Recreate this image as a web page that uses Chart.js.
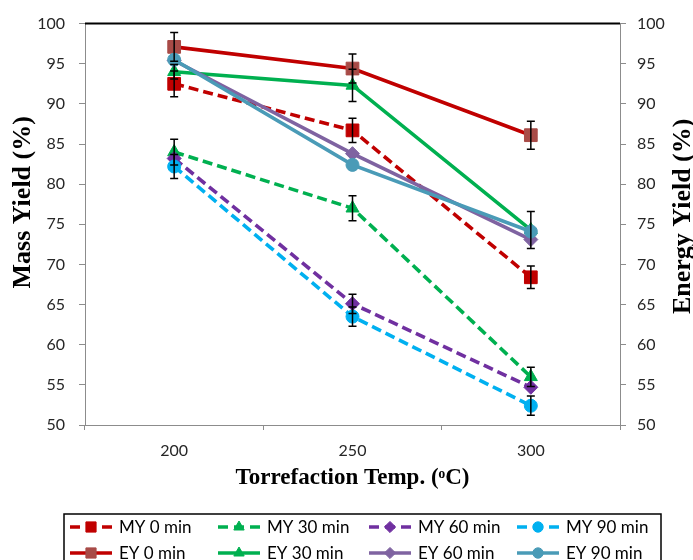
<!DOCTYPE html>
<html><head><meta charset="utf-8">
<script src="https://cdn.jsdelivr.net/npm/chart.js@4.4.1/dist/chart.umd.min.js"></script>
<style>html,body{margin:0;padding:0;background:#fff;overflow:hidden}</style>
</head><body>
<canvas id="c" width="693" height="560" style="display:block;width:693px;height:560px"></canvas>
<script>
// ---- data ----
const categories = ['200', '250', '300'];
const yTickMin = 50, yTickMax = 100, yTickStep = 5;
const xTitle = 'Torrefaction Temp. (\u1D52C)';
const yLeftTitle = 'Mass Yield (%)';
const yRightTitle = 'Energy Yield (%)';

const seriesLabels = ['MY 0 min', 'MY 30 min', 'MY 60 min', 'MY 90 min',
                      'EY 0 min', 'EY 30 min', 'EY 60 min', 'EY 90 min'];

const my0  = [92.5, 86.7, 68.4];
const my30 = [84.0, 77.0, 56.0];
const my60 = [83.2, 65.1, 54.7];
const my90 = [82.2, 63.5, 52.4];
const ey0  = [97.1, 94.4, 86.1];
const ey30 = [94.0, 92.3, 74.3];
const ey60 = [95.4, 83.8, 73.1];
const ey90 = [95.5, 82.4, 74.1];

const my0Err  = [1.6, 1.5, 1.4];
const my30Err = [1.6, 1.55, 1.2];
const my60Err = [0, 1.2, 0];
const my90Err = [1.5, 1.2, 1.2];
const ey0Err  = [1.8, 1.8, 1.75];
const ey30Err = [0.9, 2.0, 2.3];
const ey60Err = [0, 0, 0];
const ey90Err = [0, 0, 0];

// ---- styles ----
const DASH = [10, 5];
function ds(i, data, err, color, ptColor, style, radius, dashed, axis) {
  return {
    label: seriesLabels[i], data, err,
    yAxisID: axis,
    borderColor: color, backgroundColor: ptColor,
    pointBackgroundColor: ptColor, pointBorderColor: ptColor,
    pointStyle: style, pointRadius: radius, pointBorderWidth: 1,
    borderWidth: 3.6, borderDash: dashed ? DASH : [],
    borderCapStyle: 'butt', tension: 0, fill: false,
    order: 8 - i, legendRadius: radius * 0.8
  };
}

const datasets = [
  ds(0, my0, my0Err, '#C00000', '#C00000', 'rect', 9, true, 'y'),
  ds(1, my30, my30Err, '#00B050', '#00B050', 'triangle', 7.5, true, 'y'),
  ds(2, my60, my60Err, '#7030A0', '#7030A0', 'rectRot', 7, true, 'y'),
  ds(3, my90, my90Err, '#00B0F0', '#00B0F0', 'circle', 6.5, true, 'y'),
  ds(4, ey0, ey0Err, '#C00000', '#A84B47', 'rect', 9, false, 'y1'),
  ds(5, ey30, ey30Err, '#00B050', '#00B050', 'triangle', 7.5, false, 'y1'),
  ds(6, ey60, ey60Err, '#7F63A1', '#7F63A1', 'rectRot', 7, false, 'y1'),
  ds(7, ey90, ey90Err, '#4A9BB7', '#4A9BB7', 'circle', 6.5, false, 'y1')
];

const AXIS_GREY = '#8C8C8C';
const TICK_FONT = {family: 'Lato', size: 16};
const TITLE_FONT = {family: 'Liberation Serif', size: 23, weight: 'bold'};
const Y_TITLE_CSS = 'bold 26px "Liberation Serif"';

function drawVerticalTitle(ctx, text, x, y) {
  ctx.save();
  ctx.translate(x, y);
  ctx.rotate(-Math.PI / 2);
  ctx.font = Y_TITLE_CSS;
  ctx.fillStyle = '#000';
  ctx.textAlign = 'center';
  ctx.textBaseline = 'middle';
  ctx.fillText(text, 0, 0);
  ctx.restore();
}

const customPlugin = {
  id: 'custom',
  afterDatasetsDraw(chart) {
    const ctx = chart.ctx;
    ctx.save();
    ctx.strokeStyle = '#000';
    ctx.lineWidth = 1.5;
    ctx.setLineDash([]);
    chart.data.datasets.forEach((d, i) => {
      const meta = chart.getDatasetMeta(i);
      const sc = chart.scales[d.yAxisID];
      d.data.forEach((v, j) => {
        const e = d.err[j];
        if (!e) return;
        const x = meta.data[j].x;
        const y1 = sc.getPixelForValue(v + e);
        const y2 = sc.getPixelForValue(v - e);
        ctx.beginPath();
        ctx.moveTo(x, y1); ctx.lineTo(x, y2);
        ctx.moveTo(x - 4, y1); ctx.lineTo(x + 4, y1);
        ctx.moveTo(x - 4, y2); ctx.lineTo(x + 4, y2);
        ctx.stroke();
      });
    });
    ctx.restore();
  },
  afterDraw(chart) {
    const ctx = chart.ctx;
    const a = chart.chartArea;
    ctx.save();
    // top plot border
    ctx.strokeStyle = '#000';
    ctx.lineWidth = 2;
    ctx.beginPath();
    ctx.moveTo(a.left, a.top); ctx.lineTo(a.right, a.top);
    ctx.stroke();
    // axis titles (both read bottom-to-top)
    const mid = (a.top + a.bottom) / 2;
    drawVerticalTitle(ctx, yLeftTitle, 23, mid - 22);
    drawVerticalTitle(ctx, yRightTitle, 683, mid - 8);
    // legend
    const colX = [70, 218, 369, 517];
    const rowY = [527, 553];
    ctx.strokeStyle = '#000';
    ctx.lineWidth = 1.5;
    ctx.strokeRect(64, 514, 597, 60);
    ctx.font = '17px Lato';
    ctx.textBaseline = 'middle';
    ctx.textAlign = 'left';
    chart.data.datasets.forEach((d, i) => {
      const x = colX[i % 4], y = rowY[Math.floor(i / 4)];
      ctx.save();
      ctx.strokeStyle = d.borderColor;
      ctx.lineWidth = 3.5;
      ctx.setLineDash(d.borderDash.length ? [10, 6] : []);
      ctx.beginPath();
      ctx.moveTo(x, y); ctx.lineTo(x + 42, y);
      ctx.stroke();
      ctx.setLineDash([]);
      ctx.fillStyle = d.pointBackgroundColor;
      ctx.strokeStyle = d.pointBorderColor;
      ctx.lineWidth = 1;
      Chart.helpers.drawPoint(ctx, {pointStyle: d.pointStyle, radius: d.legendRadius, rotation: 0, borderWidth: 1}, x + 21, y);
      ctx.restore();
      ctx.fillStyle = '#000';
      ctx.fillText(d.label, x + 49, y + 1);
    });
    ctx.restore();
  }
};

new Chart(document.getElementById('c'), {
  type: 'line',
  data: {labels: categories, datasets},
  options: {
    responsive: false,
    animation: false,
    layout: {padding: {top: 21, bottom: 51, left: 0, right: 0}},
    plugins: {legend: {display: false}, tooltip: {enabled: false}},
    scales: {
      x: {
        type: 'category', offset: true,
        grid: {offset: true, drawOnChartArea: false, color: AXIS_GREY, tickLength: 5},
        border: {color: AXIS_GREY, width: 1},
        ticks: {font: TICK_FONT, color: '#262626', padding: 11},
        title: {display: true, text: xTitle, font: TITLE_FONT, color: '#000', padding: {top: 0, bottom: 17}},
        afterFit(s) { s.height = 84; }
      },
      y: {
        position: 'left', min: yTickMin, max: yTickMax,
        grid: {drawOnChartArea: false, color: AXIS_GREY, tickLength: 6},
        border: {color: AXIS_GREY, width: 1},
        ticks: {stepSize: yTickStep, font: TICK_FONT, color: '#262626', padding: 14},
        title: {display: false, text: yLeftTitle},
        afterFit(s) { s.width = 85; }
      },
      y1: {
        position: 'right', min: yTickMin, max: yTickMax,
        grid: {drawOnChartArea: false, color: AXIS_GREY, tickLength: 6},
        border: {color: AXIS_GREY, width: 1},
        ticks: {stepSize: yTickStep, font: TICK_FONT, color: '#262626', padding: 11},
        title: {display: false, text: yRightTitle},
        afterFit(s) { s.width = 73; }
      }
    }
  },
  plugins: [customPlugin]
});
</script>
</body></html>
